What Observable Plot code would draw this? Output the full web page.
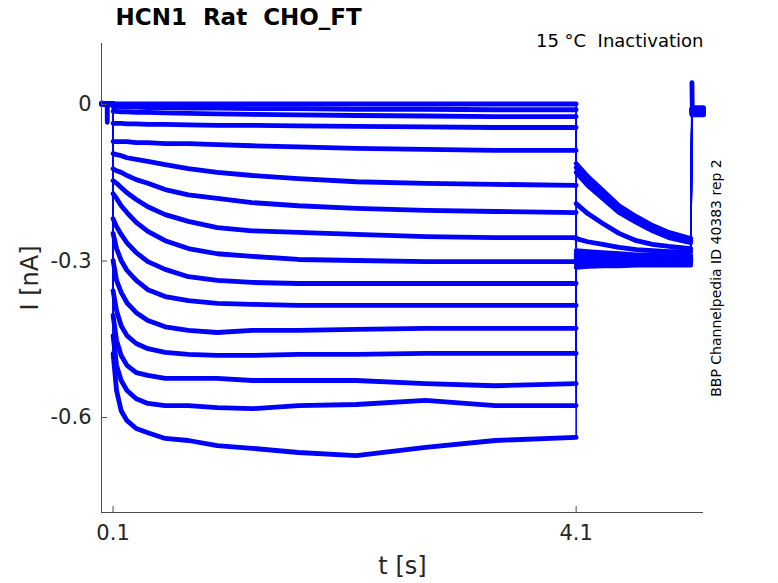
<!DOCTYPE html>
<html><head><meta charset="utf-8">
<script src="https://cdn.jsdelivr.net/npm/d3@7"></script>
<script src="https://cdn.jsdelivr.net/npm/@observablehq/plot@0.6"></script>
<style>
body{margin:0;background:#fff;}
svg text{white-space:pre;}
</style></head><body><div id="chart"></div>
<script>
// ---- text ----
const titleText = "HCN1  Rat  CHO_FT";
const conditionText = "15 °C  Inactivation";
const sourceText = "BBP Channelpedia ID 40383 rep 2";
const xLabel = "t [s]";
const yLabel = "I [nA]";

// ---- axes ----
const xDomain = [0, 5.2];
const yDomain = [-0.782, 0.117];
const xTicks = [0.1, 4.1];
const xTickLabels = ["0.1", "4.1"];
const yTicks = [0, -0.3, -0.6];
const yTickLabels = ["0", "-0.3", "-0.6"];

// ---- time bases (s) ----
const preT  = [0, 0.049, 0.05, 0.051, 0.1];
const stepT = [0.1, 0.13, 0.17, 0.22, 0.3, 0.4, 0.55, 0.75, 1.0, 1.3, 1.7, 2.2, 2.8, 3.4, 4.1];
const tailT = [4.1, 4.2, 4.33, 4.47, 4.62, 4.76, 4.9, 5.09];
const endT  = [5.1, 5.103, 5.2];

// ---- currents (nA), one row per sweep, deepest first ----
const preI = [
  [0.001,0.001,0.001,0.001,0.001],[0.001,0.001,0.001,0.001,0.001],[0.001,0.001,0.001,0.001,0.001],
  [0.001,0.001,0.001,0.001,0.001],[0.001,0.001,0.001,0.001,0.001],[0.001,0.001,0.001,0.001,0.001],
  [0.001,0.001,0.001,0.001,0.001],[0.001,0.001,0.001,0.001,0.001],[0.001,0.001,0.001,0.001,0.001],
  [0.001,0.001,0.001,0.001,0.001],[0.001,0.001,0.001,0.001,0.001],[0.001,0.001,0.001,0.001,0.001],
  [0.001,0.001,0.001,0.001,0.001],[0.001,0.001,0.001,0.001,0.001],[0.001,0.001,0.001,0.001,0.001],
  [0.003,0.001,-0.034,0.001,0.001]
];
const stepI = [
  [-0.477,-0.548,-0.587,-0.606,-0.621,-0.629,-0.640,-0.644,-0.654,-0.659,-0.667,-0.673,-0.657,-0.644,-0.638],
  [-0.443,-0.500,-0.529,-0.548,-0.564,-0.573,-0.577,-0.577,-0.581,-0.583,-0.577,-0.575,-0.567,-0.577,-0.577],
  [-0.404,-0.452,-0.481,-0.500,-0.514,-0.519,-0.525,-0.525,-0.525,-0.529,-0.529,-0.529,-0.535,-0.539,-0.535],
  [-0.357,-0.395,-0.424,-0.443,-0.458,-0.468,-0.475,-0.479,-0.481,-0.481,-0.479,-0.479,-0.477,-0.477,-0.477],
  [-0.299,-0.337,-0.360,-0.380,-0.399,-0.414,-0.426,-0.433,-0.437,-0.433,-0.433,-0.431,-0.429,-0.429,-0.429],
  [-0.247,-0.276,-0.299,-0.318,-0.337,-0.355,-0.368,-0.376,-0.381,-0.383,-0.385,-0.385,-0.385,-0.385,-0.385],
  [-0.219,-0.234,-0.249,-0.265,-0.284,-0.301,-0.316,-0.330,-0.337,-0.341,-0.343,-0.343,-0.343,-0.343,-0.343],
  [-0.171,-0.180,-0.194,-0.207,-0.226,-0.243,-0.261,-0.276,-0.286,-0.291,-0.297,-0.299,-0.301,-0.301,-0.301],
  [-0.146,-0.151,-0.159,-0.169,-0.182,-0.196,-0.211,-0.224,-0.236,-0.242,-0.245,-0.249,-0.253,-0.255,-0.255],
  [-0.123,-0.127,-0.130,-0.136,-0.144,-0.151,-0.163,-0.173,-0.180,-0.188,-0.194,-0.199,-0.203,-0.205,-0.207],
  [-0.094,-0.096,-0.098,-0.102,-0.105,-0.109,-0.115,-0.123,-0.130,-0.136,-0.142,-0.148,-0.151,-0.153,-0.155],
  [-0.071,-0.071,-0.071,-0.071,-0.073,-0.073,-0.075,-0.075,-0.077,-0.079,-0.081,-0.084,-0.086,-0.088,-0.088],
  [-0.036,-0.036,-0.036,-0.037,-0.037,-0.038,-0.038,-0.039,-0.040,-0.040,-0.041,-0.042,-0.043,-0.044,-0.044],
  [-0.013,-0.013,-0.014,-0.014,-0.015,-0.015,-0.016,-0.017,-0.018,-0.019,-0.020,-0.021,-0.022,-0.023,-0.023],
  [-0.004,-0.004,-0.005,-0.005,-0.005,-0.006,-0.006,-0.007,-0.007,-0.008,-0.008,-0.009,-0.009,-0.010,-0.010],
  [0.001,0.001,0.001,0.001,0.001,0.001,0.001,0.001,0.001,0.001,0.001,0.001,0.001,0.001,0.001]
];
const tailI = [
  [-0.312,-0.310,-0.309,-0.309,-0.308,-0.308,-0.308,-0.308],
  [-0.305,-0.305,-0.304,-0.304,-0.304,-0.304,-0.304,-0.304],
  [-0.303,-0.302,-0.302,-0.302,-0.302,-0.302,-0.302,-0.302],
  [-0.301,-0.301,-0.300,-0.300,-0.300,-0.300,-0.300,-0.300],
  [-0.299,-0.299,-0.299,-0.299,-0.299,-0.299,-0.299,-0.299],
  [-0.297,-0.298,-0.298,-0.298,-0.298,-0.298,-0.298,-0.298],
  [-0.295,-0.296,-0.297,-0.297,-0.298,-0.298,-0.298,-0.298],
  [-0.293,-0.294,-0.294,-0.295,-0.295,-0.296,-0.296,-0.296],
  [-0.289,-0.290,-0.291,-0.292,-0.293,-0.293,-0.294,-0.294],
  [-0.286,-0.287,-0.288,-0.289,-0.290,-0.290,-0.291,-0.291],
  [-0.280,-0.282,-0.284,-0.286,-0.288,-0.288,-0.289,-0.289],
  [-0.257,-0.263,-0.268,-0.274,-0.278,-0.280,-0.282,-0.282],
  [-0.190,-0.209,-0.228,-0.247,-0.261,-0.268,-0.272,-0.276],
  [-0.130,-0.155,-0.180,-0.207,-0.226,-0.242,-0.255,-0.265],
  [-0.121,-0.146,-0.173,-0.199,-0.220,-0.238,-0.251,-0.261],
  [-0.113,-0.138,-0.165,-0.194,-0.215,-0.232,-0.245,-0.257]
];
const endI = [
  [-0.020,-0.020,-0.020],[-0.018,-0.018,-0.018],[-0.017,-0.017,-0.017],[-0.016,-0.016,-0.016],
  [-0.015,-0.015,-0.015],[-0.014,-0.014,-0.014],[-0.013,-0.013,-0.013],[-0.012,-0.012,-0.012],
  [-0.012,-0.012,-0.012],[-0.011,-0.011,-0.011],[-0.010,-0.010,-0.010],[-0.010,-0.010,-0.010],
  [-0.009,-0.009,-0.009],[-0.008,-0.008,-0.008],[-0.008,-0.008,-0.008],[0.042,-0.006,-0.006]
];

// ---- build long table ----
const rows = [];
for (let k = 0; k < stepI.length; k++) {
  const segs = [["pre", preT, preI[k]], ["step", stepT, stepI[k]], ["tail", tailT, tailI[k]], ["end", endT, endI[k]]];
  for (const [seg, ts, vs] of segs) ts.forEach((t, i) => rows.push({t, I: vs[i], trace: k, key: k + "-" + seg}));
}

const blue = "#0000ff";
const axisColor = "#4d4d4d";
const labelColor = "#262626";

const chart = Plot.plot({
  width: 778, height: 583,
  marginLeft: 101, marginRight: 75, marginTop: 43, marginBottom: 71,
  style: {fontFamily: "'DejaVu Sans', sans-serif", background: "#fff", overflow: "visible"},
  x: {domain: xDomain},
  y: {domain: yDomain},
  marks: [
    Plot.line(rows, {x: "t", y: "I", z: "trace", stroke: blue, strokeWidth: 1.6}),
    Plot.line(rows, {x: "t", y: "I", z: "key", stroke: blue, strokeWidth: 4.8, strokeLinejoin: "round"}),
    Plot.ruleX([xDomain[0]], {stroke: axisColor}),
    Plot.ruleY([yDomain[0]], {stroke: axisColor}),
    Plot.axisY(yTicks, {tickSize: 0, tickPadding: 10, tickFormat: d => yTickLabels[yTicks.indexOf(d)], fontSize: 21, fill: labelColor, label: null}),
    Plot.axisY(yTicks, {tickSize: 6, dx: 6, tickFormat: () => "", stroke: axisColor, label: null}),
    Plot.axisX(xTicks, {tickSize: 0, tickPadding: 13, tickFormat: d => xTickLabels[xTicks.indexOf(d)], fontSize: 21, fill: labelColor, label: null}),
    Plot.axisX(xTicks, {tickSize: 6, dy: -6, tickFormat: () => "", stroke: axisColor, label: null}),
    Plot.text([titleText], {frameAnchor: "top-left", dx: 14, dy: -26, textAnchor: "start", lineAnchor: "middle", fontSize: 23, fontWeight: "bold", fill: "#000"}),
    Plot.text([conditionText], {frameAnchor: "top-right", dy: -2, textAnchor: "end", lineAnchor: "middle", fontSize: 18, fill: "#000"}),
    Plot.text([sourceText], {frameAnchor: "right", dx: 13, rotate: -90, textAnchor: "middle", lineAnchor: "middle", fontSize: 14, fill: "#000"}),
    Plot.text([yLabel], {frameAnchor: "left", dx: -71, rotate: -90, textAnchor: "middle", lineAnchor: "middle", fontSize: 24, fill: labelColor}),
    Plot.text([xLabel], {frameAnchor: "bottom", dy: 54, textAnchor: "middle", lineAnchor: "middle", fontSize: 24, fill: labelColor})
  ]
});
document.getElementById("chart").appendChild(chart);
</script>
</body></html>
